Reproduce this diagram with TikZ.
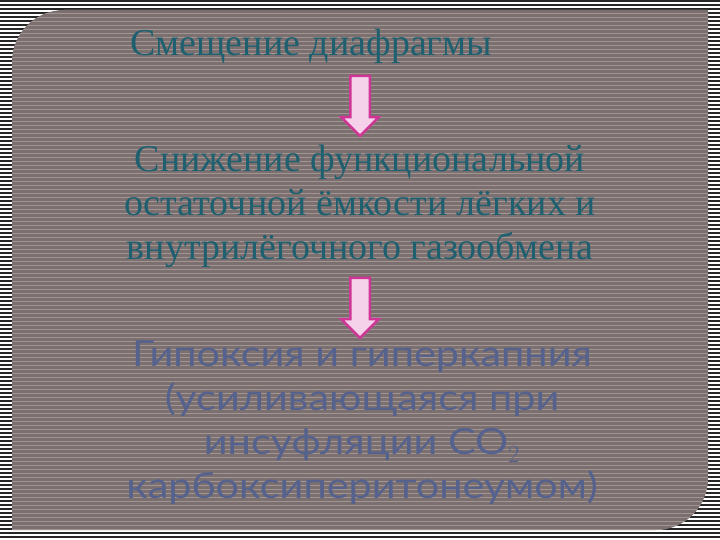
\documentclass[tikz,border=0pt]{standalone}
\usepackage{fontspec}
\setmainfont{Liberation Serif}
\newfontfamily\gothfont[FakeStretch=1.15]{Lato}
\usetikzlibrary{shapes.arrows}
\definecolor{panelbase}{HTML}{7B706F}
\definecolor{panelline}{HTML}{A09593}
\definecolor{tealtext}{HTML}{1E6070}
\definecolor{bluetext}{HTML}{56628E}
\definecolor{arrowfill}{HTML}{F6D2EA}
\definecolor{arrowdraw}{HTML}{CF3596}
\tikzset{
  downarrow/.style={single arrow, shape border rotate=270, draw=arrowdraw, line width=2.5pt,
    fill=arrowfill, minimum height=60pt, inner sep=8.5pt, single arrow head extend=9pt,
    single arrow head indent=0pt},
  serifblock/.style={text=tealtext, align=center, font=\fontsize{38}{44}\selectfont},
  gothblock/.style={text=bluetext, align=center, font=\gothfont\fontsize{36}{44}\selectfont}
}
\begin{document}
\begin{tikzpicture}[x=1pt,y=-1pt]
\useasboundingbox (0,0) rectangle (720,540);
\fill[white] (0,0) rectangle (720,540);
\foreach \k in {0,...,135} {
  \fill[black!85] (0,{\k*4}) rectangle (720,{\k*4+2});
}
\begin{scope}
\clip (12,62) arc[start angle=180, end angle=270, radius=52] -- (708,10) -- (708,478)
  arc[start angle=0, end angle=90, radius=52] -- (12,530) -- cycle;
\fill[panelbase] (0,0) rectangle (720,540);
\foreach \k in {0,...,135} {
  \fill[panelline] (0,{\k*4+1}) rectangle (720,{\k*4+2.2});
}
\end{scope}
\node[serifblock] (t1) at (311,46) {Смещение диафрагмы};
\node[downarrow] (a1) at (360,101) {};
\node[serifblock] (t2) at (360,206) {Снижение функциональной\\остаточной ёмкости лёгких и\\внутрилёгочного газообмена};
\node[downarrow] (a2) at (360,303) {};
\node[gothblock] (t3) at (362,423) {Гипоксия и гиперкапния\\(усиливающаяся при\\инсуфляции СО$_2$\\карбоксиперитонеумом)};
\end{tikzpicture}
\end{document}
